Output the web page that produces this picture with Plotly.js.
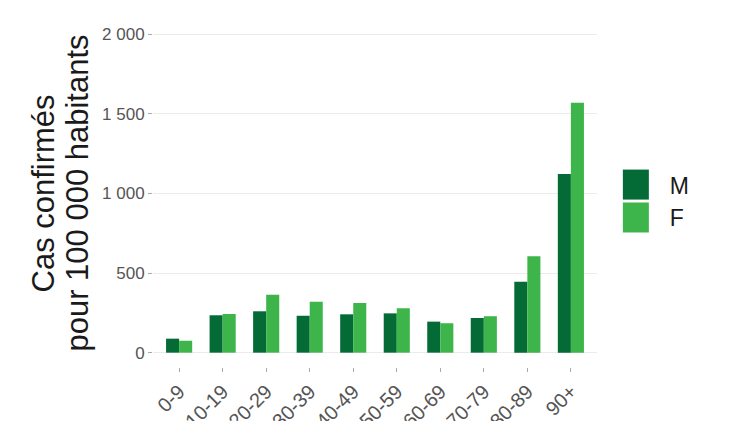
<!DOCTYPE html>
<html>
<head>
<meta charset="utf-8">
<script src="https://cdn.plot.ly/plotly-3.0.1.min.js"></script>
<style>html,body{margin:0;padding:0;background:#fff;}</style>
</head>
<body>
<div id="chart" style="width:749px;height:421px;"></div>
<script>
const ageGroups = ["0-9","10-19","20-29","30-39","40-49","50-59","60-69","70-79","80-89","90+"];
const valuesM = [88, 235, 260, 232, 241, 247, 195, 218, 446, 1122];
const valuesF = [75, 243, 364, 320, 312, 279, 185, 229, 605, 1570];
const yTickVals = [0, 500, 1000, 1500, 2000];
const yTickText = ["0", "500", "1 000", "1 500", "2 000"];
const seriesNames = ["M", "F"];
const yTitleLines = ["Cas confirmés", "pour 100 000 habitants"];
const colorM = "#046b36";
const colorF = "#3db54a";

const traces = [
  {type: "bar", name: seriesNames[0], x: ageGroups, y: valuesM, marker: {color: colorM}},
  {type: "bar", name: seriesNames[1], x: ageGroups, y: valuesF, marker: {color: colorF}}
];

const layout = {
  width: 749, height: 421,
  margin: {l: 153, r: 152, t: 20, b: 54},
  paper_bgcolor: "#fff", plot_bgcolor: "#fff",
  font: {family: "Liberation Sans, Arial, sans-serif", color: "#4d4d4d"},
  barmode: "group", bargap: 0.4, bargroupgap: 0,
  xaxis: {
    type: "category", range: [-0.6, 9.6],
    tickangle: -45, ticks: "outside", ticklen: 4, tickcolor: "#aaa",
    tickfont: {size: 20, color: "#555"}, showgrid: false, showline: false
  },
  yaxis: {
    range: [-90, 2090], tickvals: yTickVals, ticktext: yTickText,
    ticks: "outside", ticklen: 4, tickcolor: "#aaa",
    tickfont: {size: 17, color: "#555"},
    gridcolor: "#ebebeb", gridwidth: 1, zeroline: false, showline: false
  },
  annotations: [
    {text: yTitleLines[0], xref: "paper", yref: "paper", x: -0.2455, y: 0.5,
     xanchor: "center", yanchor: "middle", textangle: -90, showarrow: false,
     font: {size: 31, color: "#1a1a1a"}},
    {text: yTitleLines[1], xref: "paper", yref: "paper", x: -0.171, y: 0.5,
     xanchor: "center", yanchor: "middle", textangle: -90, showarrow: false,
     font: {size: 31, color: "#1a1a1a"}}
  ],
  showlegend: true,
  legend: {
    x: 1.074, xanchor: "left", y: 0.478, yanchor: "middle",
    font: {size: 23, color: "#1a1a1a"}, tracegroupgap: 0, traceorder: "normal"
  }
};

Plotly.newPlot("chart", traces, layout, {displayModeBar: false, staticPlot: true}).then(function(gd){
  gd.querySelectorAll(".legend [clip-path]").forEach(function(e){ e.removeAttribute("clip-path"); });
  const items = gd.querySelectorAll(".legend .traces");
  let spacing = 32;
  if (items.length > 1) {
    const a = items[0].getBoundingClientRect(), b = items[1].getBoundingClientRect();
    spacing = Math.round(b.top - a.top) || 32;
  }
  const h = Math.min(30, spacing - 2);
  gd.querySelectorAll(".legend .legendpoints path").forEach(function(p){
    const bb = p.getBBox();
    const cx = bb.x + bb.width / 2 - 14, cy = bb.y + bb.height / 2;
    p.setAttribute("d", "M" + (cx - 13) + "," + (cy - h / 2) + "h26v" + h + "h-26Z");
    p.style.strokeWidth = "0px";
  });
});
</script>
</body>
</html>
